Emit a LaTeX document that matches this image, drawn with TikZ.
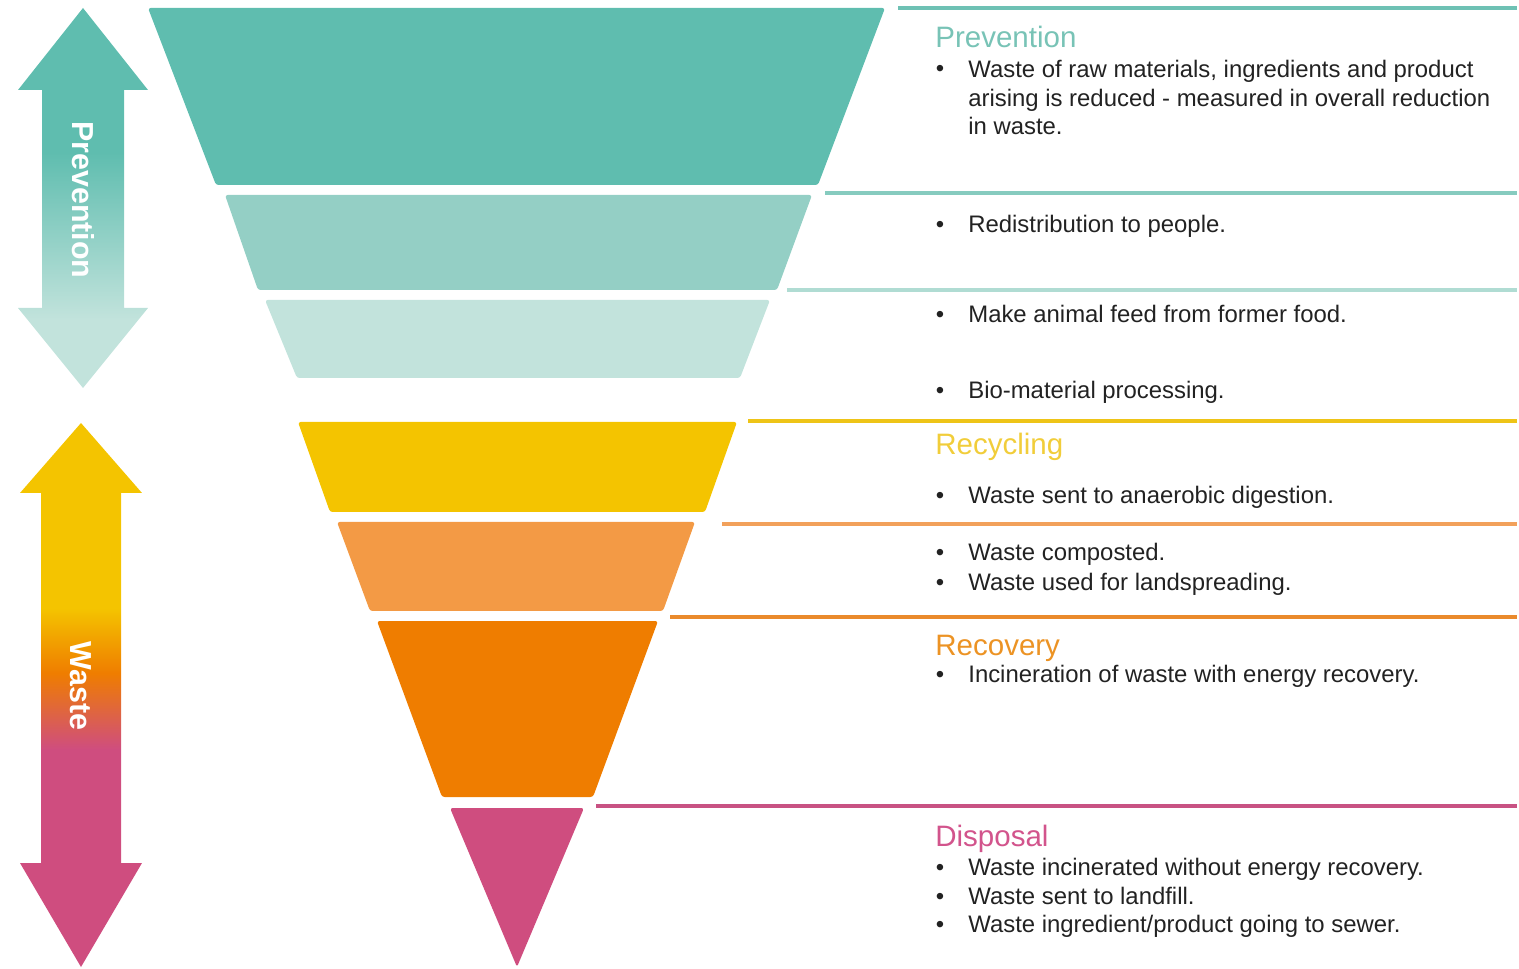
\documentclass[tikz,border=0pt]{standalone}
\usepackage{fontspec}
\setmainfont{Liberation Sans}
\usetikzlibrary{positioning}

\definecolor{tealA}{HTML}{5FBDAF}
\definecolor{tealB}{HTML}{94CFC5}
\definecolor{tealC}{HTML}{C2E3DC}
\definecolor{yel}{HTML}{F4C400}
\definecolor{orgL}{HTML}{F39A45}
\definecolor{orgD}{HTML}{EF7D00}
\definecolor{pnk}{HTML}{CF4D7F}
\definecolor{txt}{HTML}{222222}
\definecolor{tPrev}{HTML}{78C3B6}
\definecolor{tRecy}{HTML}{F1CD3A}
\definecolor{tReco}{HTML}{EC9324}
\definecolor{tDisp}{HTML}{D2548C}
\definecolor{lnA}{HTML}{6EC1B4}
\definecolor{lnB}{HTML}{86CBBF}
\definecolor{lnC}{HTML}{B0DCD3}
\definecolor{lnD}{HTML}{EEC417}
\definecolor{lnE}{HTML}{F2A15B}
\definecolor{lnF}{HTML}{EA8A2C}
\definecolor{lnG}{HTML}{C85283}

\pgfdeclareverticalshading{prevshade}{100bp}{color(0bp)=(tealC); color(34bp)=(tealC); color(56bp)=(tealA); color(100bp)=(tealA)}
\pgfdeclareverticalshading{wasteshade}{100bp}{color(0bp)=(pnk); color(45bp)=(pnk); color(52bp)=(orgD); color(58bp)=(yel); color(100bp)=(yel)}

\newcommand{\bitem}[3]{%
\node[dot](#1d) at (940,#2){\textbullet};
\node[item](#1) at (968,#2){#3};}

\begin{document}
\begin{tikzpicture}[x=0.02cm,y=-0.02cm,
  layer/.style={rounded corners=1.5pt},
  sepline/.style={line width=2pt},
  head/.style={font=\fontsize{16.8}{20}\selectfont, anchor=base west, inner sep=0pt},
  item/.style={font=\fontsize{13.6}{16.5}\selectfont, text=txt, anchor=base west, inner sep=0pt, align=left},
  dot/.style={font=\fontsize{13.6}{16.5}\selectfont, text=txt, anchor=base, inner sep=0pt},
  side/.style={font=\bfseries\fontsize{17.3}{20}\selectfont, text=white, rotate=-90, inner sep=0pt}]
\useasboundingbox (0,0) rectangle (1519,969);

% side arrows
\path[shading=prevshade] (83,8) -- (148,90) -- (124,90) -- (124,308) -- (148,308) -- (83,388)
  -- (18,308) -- (42,308) -- (42,90) -- (18,90) -- cycle;
\node[side](prevlabel) at (83,200){Prevention};
\path[shading=wasteshade] (81,423) -- (142,493) -- (121,493) -- (121,863) -- (142,863) -- (81,967)
  -- (20,863) -- (41,863) -- (41,493) -- (20,493) -- cycle;
\node[side](wastelabel) at (81,686){Waste};

% funnel
\fill[layer,tealA] (148,8) -- (885,8) -- (818,185) -- (216,185) -- cycle;
\fill[layer,tealB] (225,195) -- (812,195) -- (777,290) -- (258,290) -- cycle;
\fill[layer,tealC] (265,300) -- (770,300) -- (740,378) -- (297,378) -- cycle;
\fill[layer,yel] (298,422) -- (737,422) -- (705,512) -- (330,512) -- cycle;
\fill[layer,orgL] (337,522) -- (695,522) -- (663,611) -- (370,611) -- cycle;
\fill[layer,orgD] (377,621) -- (658,621) -- (593,797) -- (442,797) -- cycle;
\fill[layer,pnk] (450,808) -- (584,808) -- (517,967) -- cycle;

% separators
\coordinate (sA) at (898,8);   \coordinate (eA) at (1517,8);
\coordinate (sB) at (825,193); \coordinate (eB) at (1517,193);
\coordinate (sC) at (787,290); \coordinate (eC) at (1517,290);
\coordinate (sD) at (748,421); \coordinate (eD) at (1517,421);
\coordinate (sE) at (722,524); \coordinate (eE) at (1517,524);
\coordinate (sF) at (670,617); \coordinate (eF) at (1517,617);
\coordinate (sG) at (596,806); \coordinate (eG) at (1517,806);
\path
(sA) edge[sepline,lnA] (eA)
(sB) edge[sepline,lnB] (eB)
(sC) edge[sepline,lnC] (eC)
(sD) edge[sepline,lnD] (eD)
(sE) edge[sepline,lnE] (eE)
(sF) edge[sepline,lnF] (eF)
(sG) edge[sepline,lnG] (eG);

% texts
\node[head,text=tPrev](hPrev) at (935,48){Prevention};
\node[dot](iRawd) at (940,77){\textbullet};
\node[item](iRaw) at (968,135){Waste of raw materials, ingredients and product\\arising is reduced - measured in overall reduction\\in waste.};
\bitem{iPeople}{233}{Redistribution to people.}
\bitem{iFeed}{323}{Make animal feed from former food.}
\bitem{iBio}{399}{Bio-material processing.}
\node[head,text=tRecy](hRecy) at (935,455){Recycling};
\bitem{iAnaer}{504}{Waste sent to anaerobic digestion.}
\bitem{iCompost}{561}{Waste composted.}
\bitem{iLand}{591}{Waste used for landspreading.}
\node[head,text=tReco](hReco) at (935,655){Recovery};
\bitem{iIncin}{683}{Incineration of waste with energy recovery.}
\node[head,text=tDisp](hDisp) at (935,846){Disposal};
\bitem{iNoEn}{875}{Waste incinerated without energy recovery.}
\bitem{iFill}{904}{Waste sent to landfill.}
\bitem{iSewer}{932}{Waste ingredient/product going to sewer.}
\end{tikzpicture}
\end{document}
